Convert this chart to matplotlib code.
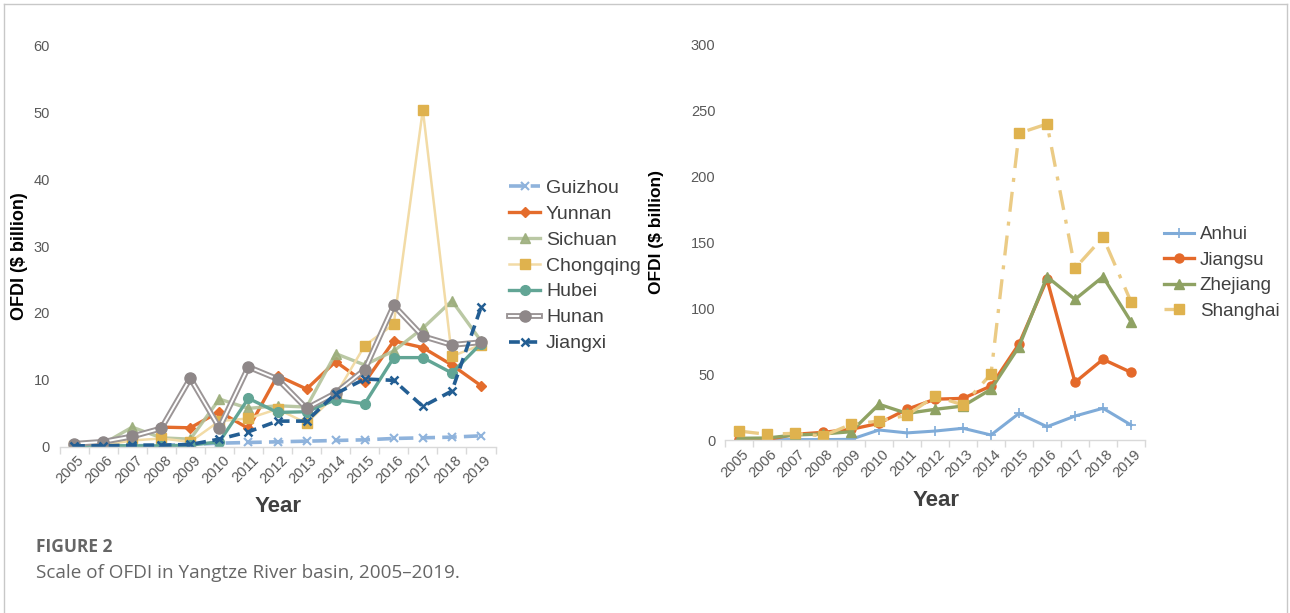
"""
Scale of OFDI in the Yangtze River basin, 2005-2019 (two panels).
"""

import matplotlib
matplotlib.use("Agg")
import matplotlib.pyplot as plt
import matplotlib.transforms as mtransforms
from matplotlib.legend_handler import HandlerTuple
import numpy as np

years = [str(y) for y in range(2005, 2020)]

# left panel: upper / middle reaches provinces ($ billion)
guizhou = [0.05, 0.1, 0.1, 0.2, 0.3, 0.5, 0.6, 0.7, 0.8, 0.9, 1.0, 1.2, 1.3, 1.4, 1.6]
yunnan = [0.4, 0.5, 1.3, 2.9, 2.8, 5.2, 2.7, 10.6, 8.6, 12.7, 9.6, 15.8, 14.8, 12.2, 9.1]
sichuan = [0.3, 0.4, 2.9, 1.3, 1.1, 7.1, 5.7, 6.1, 5.9, 13.9, 12.2, 14.3, 17.7, 21.8, 15.8]
chongqing = [0.1, 0.2, 0.9, 1.2, 0.7, 3.8, 4.2, 5.6, 3.5, 7.7, 15.1, 18.3, 50.4, 13.5, 15.2]
hubei = [0.1, 0.1, 0.1, 0.1, 0.2, 0.7, 7.2, 5.1, 5.2, 7.0, 6.4, 13.3, 13.3, 11.0, 15.4]
hunan = [0.4, 0.7, 1.5, 2.7, 10.2, 2.8, 11.9, 10.1, 5.7, 8.0, 11.5, 21.1, 16.5, 15.2, 15.6]
jiangxi = [0.1, 0.1, 0.2, 0.2, 0.3, 1.1, 2.2, 3.8, 3.8, 7.9, 10.1, 9.9, 6.0, 8.3, 20.8]

# right panel: lower reaches provinces ($ billion)
anhui = [0.2, 0.2, 0.3, 0.3, 0.5, 7.6, 5.4, 6.8, 8.9, 3.8, 20.2, 10.1, 18.2, 24.1, 11.4]
jiangsu = [0.5, 0.3, 4.3, 5.8, 8.1, 12.7, 23.3, 31.0, 31.6, 41.0, 72.9, 122.0, 43.8, 61.3, 51.4]
zhejiang = [1.3, 1.5, 3.8, 4.6, 6.3, 27.1, 20.2, 23.3, 25.8, 38.5, 70.9, 124.0, 106.8, 124.0, 89.9]
shanghai = [6.8, 4.3, 5.1, 3.0, 11.9, 14.4, 18.8, 33.4, 26.6, 50.1, 233.0, 240.0, 130.4, 154.0, 105.0]

TICK_GREY = "#595959"
W, H = 1290, 613

plt.rcParams["font.family"] = ["Liberation Sans", "DejaVu Sans"]

fig = plt.figure(figsize=(W / 100, H / 100), dpi=100)
fig.patch.set_facecolor("white")


def px_axes(left, top, right, bottom):
    return fig.add_axes([left / W, 1 - bottom / H, (right - left) / W, (bottom - top) / H])


def style_axes(ax, ymax, step):
    x = np.arange(len(years))
    ax.set_xlim(-0.5, len(years) - 0.5)
    ax.set_ylim(0, ymax)
    ax.set_yticks(np.arange(0, ymax + 1, step))
    for side in ("left", "right", "top"):
        ax.spines[side].set_visible(False)
    ax.spines["bottom"].set_color("#d9d9d9")
    ax.spines["bottom"].set_linewidth(1.0)
    ax.tick_params(axis="y", length=0, pad=7, labelsize=10.5, labelcolor=TICK_GREY)
    # category ticks sit between the years, labels sit on the years
    ax.set_xticks(np.arange(-0.5, len(years)), minor=False)
    ax.set_xticklabels([])
    ax.set_xticks(x, minor=True)
    ax.set_xticklabels(years, minor=True, rotation=45, ha="right", va="top",
                       rotation_mode="anchor", fontsize=10.5, color=TICK_GREY)
    ax.tick_params(axis="x", which="major", length=5, color="#d9d9d9", width=1.0)
    ax.tick_params(axis="x", which="minor", length=0, pad=5)
    offset = mtransforms.ScaledTranslation(3 / 100, 0, fig.dpi_scale_trans)
    for lab in ax.get_xticklabels(minor=True):
        lab.set_transform(lab.get_transform() + offset)
    return x


# ---- left panel ----
axl = px_axes(59.5, 45.5, 495.5, 446.5)
x = style_axes(axl, 60, 10)

h_gz, = axl.plot(x, guizhou, color="#8fb3dc", lw=2.6, ls=(0, (4, 2)), marker="x", ms=6,
                 mew=1.5)
h_yn, = axl.plot(x, yunnan, color="#e46c2c", lw=2.4, marker="D", ms=5.5)
h_sc, = axl.plot(x, sichuan, color="#b3c29a", lw=2.4, alpha=0.9, marker="^", ms=7,
                 mfc="#9cae7c", mec="#9cae7c")
h_cq, = axl.plot(x, chongqing, color="#f2dba6", lw=1.8, marker="s", ms=7,
                 mfc="#dfb24e", mec="#dfb24e")
h_hb, = axl.plot(x, hubei, color="#62a595", lw=2.4, marker="o", ms=7)
# Hunan is drawn as a double line: grey casing with a white core
h_hn_out, = axl.plot(x, hunan, color="#9b9596", lw=4.2)
h_hn_in, = axl.plot(x, hunan, color="white", lw=1.4, marker="o", ms=8,
                    mfc="#8e8788", mec="#8e8788")
h_jx, = axl.plot(x, jiangxi, color="#235e93", lw=2.6, ls=(0, (3, 1.8)), marker="x", ms=6,
                 mew=1.8)

axl.legend([h_gz, h_yn, h_sc, h_cq, h_hb, (h_hn_out, h_hn_in), h_jx],
           ["Guizhou", "Yunnan", "Sichuan", "Chongqing", "Hubei", "Hunan", "Jiangxi"],
           handler_map={tuple: HandlerTuple(ndivide=1, pad=0)},
           loc="upper left", bbox_to_anchor=(509 / W, 1 - 179 / H),
           bbox_transform=fig.transFigure, frameon=False, fontsize=14,
           handlelength=1.6, handletextpad=0.3, labelspacing=0.43,
           borderpad=0, borderaxespad=0, labelcolor="#404040")

# ---- right panel ----
axr = px_axes(725, 45, 1145, 440)
x = style_axes(axr, 300, 50)

axr.plot(x, anhui, color="#7fabd8", lw=2.2, marker="+", ms=7, mew=1.2, label="Anhui")
axr.plot(x, jiangsu, color="#e4692a", lw=2.4, marker="o", ms=6.5, label="Jiangsu")
axr.plot(x, zhejiang, color="#8fa263", lw=2.4, marker="^", ms=7, label="Zhejiang")
axr.plot(x, shanghai, color="#ebcb85", lw=2.4, ls=(0, (6, 3, 1.2, 3)), marker="s", ms=7,
         mfc="#dfb24e", mec="#dfb24e", label="Shanghai")

axr.legend(loc="upper left", bbox_to_anchor=(1164 / W, 1 - 226 / H),
           bbox_transform=fig.transFigure, frameon=False, fontsize=13.5,
           handlelength=1.6, handletextpad=0.3, labelspacing=0.45,
           borderpad=0, borderaxespad=0, labelcolor="#404040")

# axis titles
fig.text(20 / W, 1 - 256 / H, "OFDI ($ billion)", rotation=90, ha="center", va="center",
         fontsize=13, fontweight="bold", color="black")
fig.text(657 / W, 1 - 232 / H, "OFDI ($ billion)", rotation=90, ha="center", va="center",
         fontsize=12.5, fontweight="bold", color="black")
fig.text(278 / W, 1 - 506 / H, "Year", ha="center", va="center",
         fontsize=16, fontweight="bold", color="#404040")
fig.text(936 / W, 1 - 500 / H, "Year", ha="center", va="center",
         fontsize=16, fontweight="bold", color="#404040")

# caption
fig.text(36 / W, 1 - 547 / H, "FIGURE 2", ha="left", va="center",
         fontsize=12.5, fontweight="bold", color="#666666", family=["Open Sans", "DejaVu Sans"])
fig.text(36 / W, 1 - 573 / H, "Scale of OFDI in Yangtze River basin, 2005\u20132019.",
         ha="left", va="center", fontsize=13.6, color="#666666",
         family=["Open Sans", "DejaVu Sans"])

# outer frame of the figure panel
frame = dict(transform=fig.transFigure, color="#c8c8c8", lw=1)
fig.add_artist(plt.Line2D([4 / W, 4 / W], [0, 1 - 4 / H], **frame))
fig.add_artist(plt.Line2D([1287 / W, 1287 / W], [0, 1 - 4 / H], **frame))
fig.add_artist(plt.Line2D([4 / W, 1287 / W], [1 - 4 / H, 1 - 4 / H], **frame))

fig.savefig("out.png", dpi=100, facecolor="white")
